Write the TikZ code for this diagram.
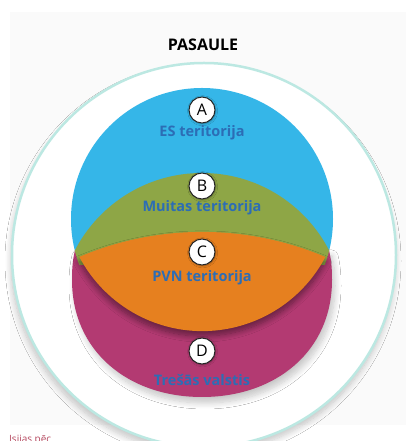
\documentclass[tikz,border=0pt]{standalone}
\usepackage{fontspec}
\setmainfont{Open Sans}
\usetikzlibrary{shadows.blur}

\definecolor{esblue}{HTML}{35B6E8}
\definecolor{muitgreen}{HTML}{8EA646}
\definecolor{pvnorange}{HTML}{E6801F}
\definecolor{tresmag}{HTML}{B33A72}
\definecolor{ringteal}{HTML}{BCE8E2}
\definecolor{txtblue}{HTML}{2C6DB5}
\definecolor{notered}{HTML}{B5475E}

\tikzset{
  letter/.style={circle, draw=black!85, line width=1pt, fill=white,
    minimum size=26pt, inner sep=0pt, font=\fontsize{16}{16}\selectfont,
    blur shadow={shadow xshift=.6pt, shadow yshift=-.8pt, shadow blur steps=4, shadow opacity=35}},
  area/.style={font=\bfseries\fontsize{14.5}{15}\selectfont, text=txtblue},
  soft/.style={blur shadow={shadow xshift=#1, shadow yshift=-6pt, shadow blur radius=6pt, shadow blur steps=10, shadow opacity=22}},
}

\begin{document}
\begin{tikzpicture}[x=1pt, y=1pt]

    \def\cx{202};

    \clip (0,0) rectangle (406,441);
    \fill[white] (0,0) rectangle (406,441);
    \fill[black!2] (10,16) rectangle (406,429);

    % pasaule
    \draw[ringteal, line width=2.5pt, fill=white, soft=-1pt] (204,186) circle[radius=192];
    \node[font=\bfseries\fontsize{16}{16}\selectfont] (world) at (203,396) {PASAULE};

    % ES teritorija
    \fill[esblue] (\cx,222) circle[radius=131];

    % treshas valstis
    \fill[tresmag, soft=3pt] (75,191) .. controls (72.5,180) and (72,172) .. (72,161)
      .. controls (72,90) and (128,44) .. (\cx,44)
      .. controls (276,44) and (332,90) .. (332,161)
      .. controls (332,172) and (331.5,180) .. (329,191) -- cycle;

    % muitas teritorija
    \begin{scope}
      \clip (\cx,222) circle[radius=131];
      \clip (0,176) rectangle (406,441);
      \fill[muitgreen] (\cx,125) circle[radius=143];
    \end{scope}

    % PVN teritorija
    \fill[pvnorange, blur shadow={shadow xshift=0pt, shadow yshift=-5pt, shadow blur radius=6pt, shadow blur steps=10, shadow opacity=45}]
      (79,184) arc[start angle=113.02, end angle=66.98, radius=315]
      arc[start angle=-27.86, end angle=-152.14, radius=139.1] -- cycle;

    \foreach \l/\ly/\t/\ty in {A/331/ES teritorija/308, B/255/Muitas teritorija/233,
                              C/189/PVN teritorija/163, D/90/Trešās valstis/61} {
      \node[letter] (l\l) at (\cx,\ly) {\l};
      \node[area]   (t\l) at (\cx,\ty) {\t};
    }

    \node[anchor=north west, text=notered, font=\fontsize{10}{10}\selectfont, inner sep=0pt] (note) at (9,6) {Isijas pēc};

\end{tikzpicture}
\end{document}
